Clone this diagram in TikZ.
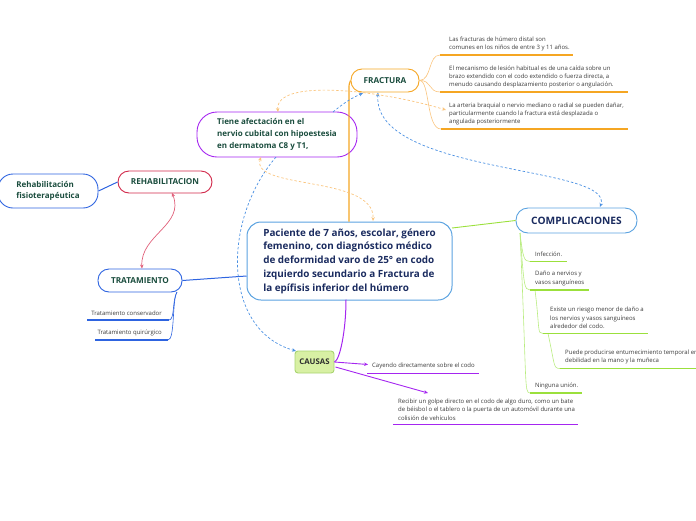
\documentclass[tikz,border=0pt]{standalone}
\usepackage{fontspec}
\setmainfont{Open Sans}
\usepackage{tikz}
\usetikzlibrary{positioning, arrows.meta, calc}
\usepackage{xcolor}
\definecolor{mapaNavy}{HTML}{1A2B5F}
\definecolor{mapaVerdeTxt}{HTML}{1B4D3E}
\definecolor{mapaGris}{HTML}{3A3A3A}
\definecolor{mapaAzulCentro}{HTML}{5AA2E0}
\definecolor{mapaAzul}{HTML}{2E64E0}
\definecolor{mapaNaranja}{HTML}{F5A623}
\definecolor{mapaNaranjaClaro}{HTML}{FAC57E}
\definecolor{mapaMorado}{HTML}{A526F0}
\definecolor{mapaVerde}{HTML}{9BE03C}
\definecolor{mapaVerdeClaro}{HTML}{B9EC80}
\definecolor{mapaRojo}{HTML}{D1284A}
\definecolor{mapaRosa}{HTML}{E0607A}
\definecolor{mapaRelacion}{HTML}{4A90E2}
\definecolor{causasRelleno}{HTML}{D8F0A4}
\definecolor{causasBorde}{HTML}{A8D46F}

\begin{document}
\begin{tikzpicture}[x=1pt, y=-1pt, >={Stealth[length=4pt, width=3.5pt]},
    tema/.style={draw, rounded corners=11pt, line width=0.9pt, inner sep=0pt,
      text=mapaVerdeTxt, font=\fontsize{8.2}{10}\selectfont\bfseries},
    hoja/.style={anchor=south west, inner sep=0pt, align=left, text=mapaGris,
      font=\fontsize{6}{8.4}\selectfont},
    subrayado/.style={line width=1.1pt},
    rama/.style={line width=0.6pt},
    relacion/.style={dashed, line width=0.7pt, dash pattern=on 2.5pt off 2pt}]
  \useasboundingbox (0,0) rectangle (696,520);

  % Nodo central
  \node[draw=mapaAzulCentro, line width=1pt, rounded corners=14pt, minimum width=205pt,
    minimum height=78pt, align=left, text=mapaNavy, inner sep=0pt,
    font=\fontsize{9.9}{13.7}\selectfont\bfseries] (paciente) at (349.5,261)
    {Paciente de 7 años, escolar, género\\femenino, con diagnóstico médico\\de deformidad varo de 25° en codo\\izquierdo secundario a Fractura de\\la epífisis inferior del húmero};

  % Temas principales
  \node[tema, draw=mapaNaranja, minimum width=68pt, minimum height=23pt] (fractura) at (385,80.5) {FRACTURA};
  \node[tema, draw=mapaMorado, rounded corners=20pt, minimum width=160pt, minimum height=45pt,
    align=left, font=\fontsize{8}{11.7}\selectfont\bfseries] (tiene) at (277,134.5)
    {Tiene afectación en el\\nervio cubital con hipoestesia\\en dermatoma C8 y T1,};
  \node[tema, draw=mapaRojo, minimum width=94pt, minimum height=22pt] (rehab) at (165,182) {REHABILITACION};
  \node[tema, draw=mapaAzul, rounded corners=15pt, minimum width=100pt, minimum height=34pt,
    align=left, font=\fontsize{8}{10.7}\selectfont\bfseries] (fisio) at (48,191)
    {Rehabilitación\\fisioterapéutica};
  \node[tema, draw=mapaAzul, minimum width=84pt, minimum height=23pt] (tratam) at (140,280.5) {TRATAMIENTO};
  \node[tema, draw=mapaAzulCentro, rounded corners=12pt, minimum width=121pt, minimum height=25pt,
    text=mapaNavy, font=\fontsize{10.2}{12}\selectfont\bfseries] (complic) at (576.5,220.5) {COMPLICACIONES};
  \node[tema, draw=causasBorde, fill=causasRelleno, rounded corners=3pt, minimum width=39pt,
    minimum height=22pt, text=mapaGris!80!black, font=\fontsize{7.8}{10}\selectfont\bfseries] (causas) at (314.5,362) {CAUSAS};

  % Hojas de FRACTURA
  \node[hoja] (fracHoja1) at (449,51.5) {Las fracturas de húmero distal son\\comunes en los niños de entre 3 y 11 años.};
  \node[hoja] (fracHoja2) at (449,88.5) {El mecanismo de lesión habitual es de una caída sobre un\\brazo extendido con el codo extendido o fuerza directa, a\\menudo causando desplazamiento posterior o angulación.};
  \node[hoja] (fracHoja3) at (449,125.5) {La arteria braquial o nervio mediano o radial se pueden dañar,\\particularmente cuando la fractura está desplazada o\\angulada posteriormente};
  \coordinate (f1) at (440,55);
  \coordinate (f2) at (440,92);
  \coordinate (f3) at (441,129);
  \draw[rama, mapaNaranjaClaro] (fractura.east) .. controls (432,80) and (428,55) .. (f1);
  \draw[rama, mapaNaranjaClaro] (fractura.east) .. controls (432,80) and (428,92) .. (f2);
  \draw[rama, mapaNaranjaClaro] (fractura.east) .. controls (430,80) and (426,129) .. (f3);
  \draw[subrayado, mapaNaranja] (f1) -- (573,55);
  \draw[subrayado, mapaNaranja] (f2) -- (628,92);
  \draw[subrayado, mapaNaranja] (f3) -- (628,129);

  % Hojas de COMPLICACIONES
  \node[hoja] (compHoja1) at (535,257) {Infección.};
  \node[hoja] (compHoja2) at (535,286) {Daño a nervios y\\vasos sanguíneos};
  \node[hoja] (compHoja3) at (550,329) {Existe un riesgo menor de daño a\\los nervios y vasos sanguíneos\\alrededor del codo.};
  \node[hoja] (compHoja4) at (565,364.5) {Puede producirse entumecimiento temporal en\\debilidad en la mano y la muñeca};
  \node[hoja] (compHoja5) at (535,389) {Ninguna unión.};
  \coordinate (cRaiz) at (520,233);
  \coordinate (c1) at (530,261.5);
  \coordinate (c2) at (530,290);
  \coordinate (c3) at (543,333.5);
  \coordinate (c4) at (560,368.5);
  \coordinate (c5) at (530,393);
  \draw[rama, mapaVerdeClaro] (cRaiz) .. controls (523,258) and (524,261.5) .. (c1);
  \draw[rama, mapaVerdeClaro] (cRaiz) .. controls (524,285) and (524,290) .. (c2);
  \draw[rama, mapaVerdeClaro] (cRaiz) .. controls (527,385) and (524,393) .. (c5);
  \draw[rama, mapaVerdeClaro] (535,290) .. controls (540,330) and (537,333.5) .. (c3);
  \draw[rama, mapaVerdeClaro] (548,333.5) .. controls (555,365) and (553,368.5) .. (c4);
  \draw[subrayado, mapaVerde] (c1) -- (567,261.5);
  \draw[subrayado, mapaVerde] (c2) -- (589,290);
  \draw[subrayado, mapaVerde] (c3) -- (648,333.5);
  \draw[subrayado, mapaVerde] (c4) -- (698,368.5);
  \draw[subrayado, mapaVerde] (c5) -- (582,393);

  % Hojas de TRATAMIENTO
  \node[hoja, anchor=south east] (tratHoja1) at (162,316) {Tratamiento conservador};
  \node[hoja, anchor=south east] (tratHoja2) at (162,336) {Tratamiento quirúrgico};
  \coordinate (t1) at (169,320);
  \coordinate (t2) at (168,340);
  \draw[rama, mapaAzul] (177,292) .. controls (172,300) and (175,320) .. (t1);
  \draw[rama, mapaAzul] (177,292) .. controls (172,300) and (175,340) .. (t2);
  \draw[subrayado, mapaAzul] (t1) -- (87,320);
  \draw[subrayado, mapaAzul] (t2) -- (95,340);

  % Hojas de CAUSAS
  \node[hoja] (causHoja1) at (372,369.5) {Cayendo directamente sobre el codo};
  \node[hoja] (causHoja2) at (398,420.5) {Recibir un golpe directo en el codo de algo duro, como un bate\\de béisbol o el tablero o la puerta de un automóvil durante una\\colisión de vehículos};
  \coordinate (k1) at (368,364.5);
  \coordinate (k2) at (428,393);
  \draw[->, line width=0.9pt, mapaMorado] (causas.east) -- (k1);
  \draw[->, line width=0.9pt, mapaMorado] ($(causas.east)+(1,5)$) -- (k2);
  \draw[subrayado, mapaMorado] (367,373.5) -- (479,373.5);
  \draw[subrayado, mapaMorado] (393,424.5) -- (578,424.5);

  % Conectores del nodo central
  \draw[line width=1.2pt, mapaNaranja] (paciente.north -| 349,0) -- (349,90) .. controls (349,84) .. (fractura.west);
  \draw[line width=1pt, mapaMorado] (346,299.5) .. controls (346,330) and (340,360) .. (causas.east);
  \draw[line width=1pt, mapaAzul] (paciente.west |- 0,276) -- (tratam.east);
  \draw[line width=0.9pt, mapaVerde] (452,228) -- (complic.west);
  \draw[line width=1pt, mapaAzul] (rehab.west) -- (fisio.east);

  % Relaciones
  \draw[relacion, mapaRelacion, ->] (276,157) .. controls (222,220) and (222,330) .. (296,351);
  \draw[relacion, mapaRelacion, ->] (333,112) .. controls (345,102) and (352,98) .. (363,93);
  \draw[relacion, mapaRelacion, <->] (378,92.5) .. controls (372,175) and (615,165) .. (600,207);
  \draw[relacion, mapaNaranjaClaro, <->] (278,112) .. controls (275,78) and (380,90) .. (446,110);
  \draw[relacion, mapaNaranjaClaro, <->] (261,157) .. controls (250,190) and (375,175) .. (373,221);
  \draw[line width=0.7pt, mapaRosa, <->] (172,193) .. controls (185,225) and (140,235) .. (142,268.5);
\end{tikzpicture}
\end{document}
